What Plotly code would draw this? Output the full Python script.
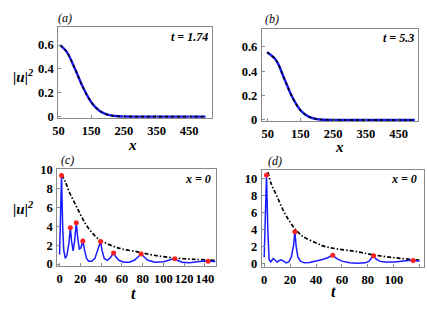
import plotly.graph_objects as go

W, H = 427, 313

# ---------------- data ----------------
# panel (a): |u|^2 vs x at t = 1.74
xa = [55, 75, 100, 125, 150, 175, 200, 225, 250, 300, 350, 400, 450, 500]
ua = [0.60, 0.543, 0.402, 0.244, 0.121, 0.049, 0.016, 0.0045, 0.001, 0, 0, 0, 0, 0]
# panel (b): |u|^2 vs x at t = 5.3
xb = [48, 75, 100, 125, 150, 175, 200, 225, 250, 300, 350, 400, 450, 500]
ub = [0.555, 0.492, 0.343, 0.188, 0.080, 0.027, 0.007, 0.0015, 0.0003, 0, 0, 0, 0, 0]

# panel (c): |u|^2 vs t at x = 0
tc = [0, 1, 1.9, 3, 4, 5.5, 7, 9, 10.4, 11.5, 13, 14.5, 16.1, 17.5, 19, 20.5, 22.4, 24, 26, 28,
      31, 34, 37, 39.5, 41, 43, 46, 49, 52, 54, 57, 62, 67, 72, 76, 78.5, 81, 85, 92, 100,
      105, 109, 112, 118, 125, 133, 139, 145, 150]
uc = [1.0, 5.0, 9.4, 4.0, 1.5, 0.6, 0.9, 2.2, 3.85, 2.5, 1.4, 2.4, 4.4, 2.8, 1.6, 1.7, 2.45, 1.5, 0.6, 0.3,
      0.3, 0.6, 1.5, 2.4, 1.4, 0.6, 0.4, 0.7, 1.17, 0.8, 0.4, 0.2, 0.2, 0.4, 0.8, 1.07, 0.8, 0.4, 0.2, 0.25,
      0.4, 0.55, 0.45, 0.2, 0.15, 0.25, 0.33, 0.3, 0.28]
pk_tc = [1.9, 10.4, 16.1, 22.4, 39.5, 52, 78.5, 111, 143]
pk_uc = [9.4, 3.85, 4.4, 2.45, 2.4, 1.17, 1.07, 0.55, 0.3]
env_tc = [2, 5.7, 10, 15, 20, 24.6, 30, 37, 45, 53, 60, 75, 90, 109, 130, 150]
env_uc = [9.5, 8.7, 7.5, 6.4, 5.3, 4.35, 3.5, 2.7, 2.2, 1.84, 1.6, 1.3, 0.95, 0.67, 0.5, 0.4]

# panel (d): |u|^2 vs t at x = 0
td = [0, 1, 1.8, 2.8, 3.8, 5, 6, 7, 8.5, 10, 11.5, 13, 15, 17, 19, 21, 22.7, 23.7, 24.7, 26, 28,
      31, 35, 40, 45, 49, 52.9, 56, 60, 66, 72, 78, 81, 83, 84.4, 86, 89, 93, 100, 106, 110,
      113, 115, 118, 120]
ud = [0.75, 5.0, 10.45, 4.0, 0.5, 0.2, 0.4, 0.6, 0.4, 0.2, 0.35, 0.45, 0.3, 0.1, 0.2, 0.8, 2.2, 3.77, 2.0, 0.8, 0.3,
      0.1, 0.15, 0.3, 0.5, 0.7, 1.0, 0.6, 0.3, 0.1, 0.05, 0.1, 0.3, 0.7, 0.94, 0.6, 0.3, 0.2, 0.2, 0.3, 0.4,
      0.4, 0.37, 0.35, 0.33]
pk_td = [1.8, 23.7, 52.9, 84.4, 115]
pk_ud = [10.45, 3.77, 1.0, 0.94, 0.37]
env_td = [3, 5, 10, 15, 20, 25, 30, 40, 46, 56, 71, 84, 102, 117, 121]
env_ud = [10.8, 9.6, 7.9, 6.2, 4.9, 3.9, 3.2, 2.45, 2.07, 1.75, 1.43, 1.05, 0.68, 0.45, 0.4]

x_ticks_top = [50, 150, 250, 350, 450]
y_ticks_top = [0, 0.2, 0.4, 0.6]
y_text_top = ["0", "0.2", "0.4", "0.6"]
x_ticks_c = [0, 20, 40, 60, 80, 100, 120, 140]
x_ticks_d = [0, 20, 40, 60, 80, 100, 120]
y_ticks_bot = [0, 2, 4, 6, 8, 10]

# ---------------- figure ----------------
fig = go.Figure()

def px_dom(x0, x1):
    return [x0 / W, x1 / W]

def py_dom(y0, y1):  # y0 top pixel, y1 bottom pixel
    return [1 - y1 / H, 1 - y0 / H]

panels = {
    1: dict(x=px_dom(53, 209), y=py_dom(22, 116.5), xr=[49, 520], yr=[-0.012, 0.75],
            xt=x_ticks_top, yt=y_ticks_top, ytt=y_text_top),
    2: dict(x=px_dom(259.5, 418), y=py_dom(23.5, 120), xr=[32, 510], yr=[-0.012, 0.75],
            xt=x_ticks_top, yt=y_ticks_top, ytt=y_text_top),
    3: dict(x=px_dom(52, 213), y=py_dom(170, 270), xr=[-2.2, 150.6], yr=[-0.17, 10.05],
            xt=x_ticks_c, yt=y_ticks_bot, ytt=None),
    4: dict(x=px_dom(259.5, 423.5), y=py_dom(170.5, 271.5), xr=[-1.8, 123], yr=[-0.4, 11.05],
            xt=x_ticks_d, yt=y_ticks_bot, ytt=None),
}

tickfont = dict(family="Liberation Serif", size=12.5, color="black", weight="bold")

for i, p in panels.items():
    sx = "" if i == 1 else str(i)
    common = dict(showline=True, mirror=True, linecolor="#8a8a8a", linewidth=1.2,
                  ticks="inside", ticklen=3, tickcolor="#8a8a8a", showgrid=False, zeroline=False,
                  tickfont=tickfont, ticklabelstandoff=1)
    fig.layout["xaxis" + sx] = dict(domain=p["x"], range=p["xr"], anchor="y" + sx,
                                    tickvals=p["xt"], **common)
    yd = dict(domain=p["y"], range=p["yr"], anchor="x" + sx, tickvals=p["yt"], **common)
    if p["ytt"]:
        yd["ticktext"] = p["ytt"]
    fig.layout["yaxis" + sx] = yd

def add(xs, ys, ax, **kw):
    sx = "" if ax == 1 else str(ax)
    fig.add_trace(go.Scatter(x=xs, y=ys, xaxis="x" + sx, yaxis="y" + sx, showlegend=False,
                             hoverinfo="skip", **kw))

# top panels: blue numerical + black dotted analytical
for ax, xs, ys in [(1, xa, ua), (2, xb, ub)]:
    add(xs, ys, ax, mode="lines", line=dict(color="#1a1aff", width=2.4, shape="spline"))
    add(xs, ys, ax, mode="lines", line=dict(color="black", width=1.6, dash="dot", shape="spline"))

# bottom panels
for ax, t, u, pt, pu, et, eu in [(3, tc, uc, pk_tc, pk_uc, env_tc, env_uc),
                                 (4, td, ud, pk_td, pk_ud, env_td, env_ud)]:
    add(et, eu, ax, mode="lines",
        line=dict(color="black", width=1.7, dash="4px,2px,1.5px,2px", shape="spline"))
    add(t, u, ax, mode="lines", line=dict(color="#1a1aff", width=1.5))
    add(pt, pu, ax, mode="markers", marker=dict(color="#ff2020", size=5))

def ann(x, y, text, size=13, italic=True, bold=True, xanchor="center"):
    t = text
    if bold:
        t = "<b>" + t + "</b>"
    if italic:
        t = "<i>" + t + "</i>"
    fig.add_annotation(x=x / W, y=1 - y / H, xref="paper", yref="paper", text=t,
                       showarrow=False, xanchor=xanchor, yanchor="middle",
                       font=dict(family="Liberation Serif", size=size, color="black"))

ann(60, 12, "(a)", size=12, bold=False)
ann(270, 14, "(b)", size=12, bold=False)
ann(62, 160, "(c)", size=12, bold=False)
ann(273, 161, "(d)", size=12, bold=False)

ann(207, 32, "t</i><b> = 1.74</b><i>", size=12, xanchor="right")
ann(416, 33, "t</i><b> = 5.3</b><i>", size=12, xanchor="right")
ann(210, 180, "x</i><b> = 0</b><i>", size=12, xanchor="right")
ann(419, 180, "x</i><b> = 0</b><i>", size=12, xanchor="right")

ann(128, 145, "x", size=15)
ann(338, 147, "x", size=15)
ann(129, 299, "t", size=16)
ann(332, 297, "t", size=16)

ann(18, 73, "|u|<sup>2</sup>", size=15)
ann(18, 210, "|u|<sup>2</sup>", size=15)

fig.update_layout(width=W, height=H, autosize=False, margin=dict(l=0, r=0, t=0, b=0),
                  paper_bgcolor="white", plot_bgcolor="white", hovermode=False)

fig.write_html("out.html", config={"displayModeBar": False},
               post_script="document.body.style.margin='0';document.body.style.overflow='hidden';")
